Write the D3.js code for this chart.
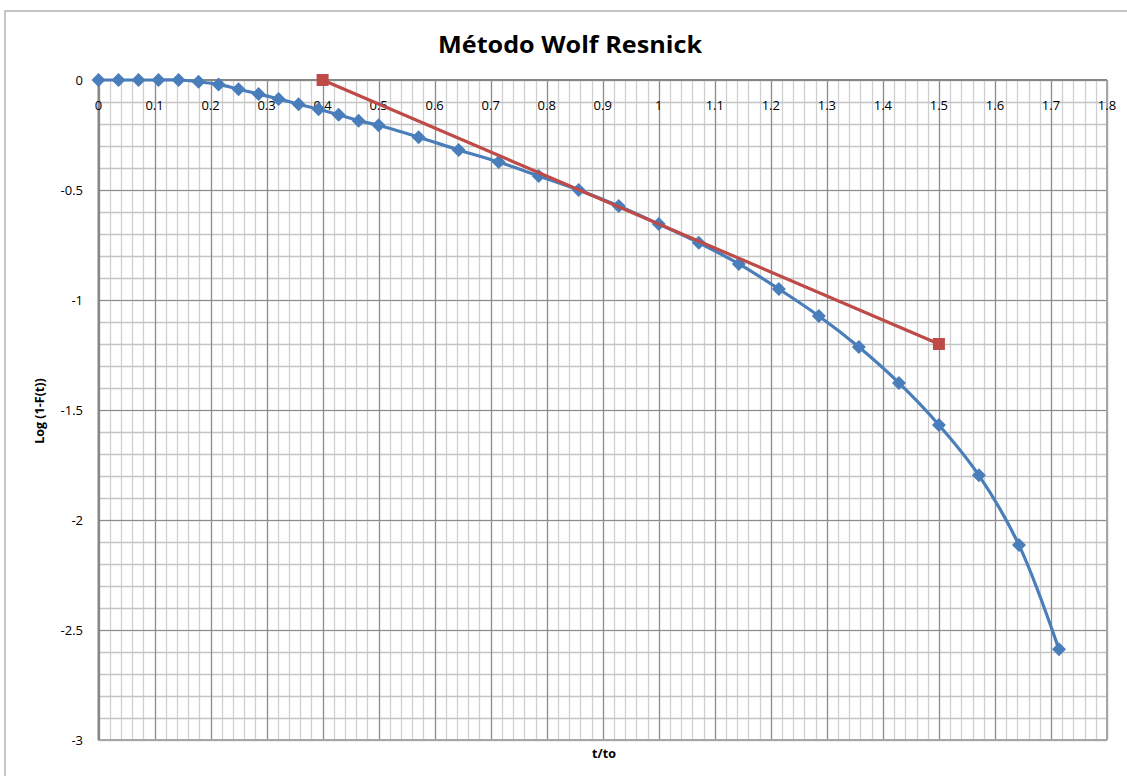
<!DOCTYPE html>
<html><head><meta charset="utf-8">
<script src="https://cdn.jsdelivr.net/npm/d3@7"></script>
<style>body{margin:0;background:#fff}svg{display:block}text{font-family:"Open Sans","DejaVu Sans",sans-serif}</style>
</head><body><svg id="c" width="1127" height="776"></svg>
<script>
const title = "Método Wolf Resnick";
const xLabel = "t/to";
const yLabel = "Log (1-F(t))";
const blueX = [0,0.0357,0.0714,0.1071,0.1429,0.1786,0.2143,0.25,0.2857,0.3214,0.3571,0.3929,0.4286,0.4643,0.5,
  0.5714,0.6429,0.7143,0.7857,0.8571,0.9286,1.0,1.0714,1.1429,1.2143,1.2857,1.3571,1.4286,1.5,1.5714,1.6429,1.7143];
const blueY = [0,0,0,0,0,-0.008,-0.02,-0.042,-0.064,-0.086,-0.11,-0.133,-0.158,-0.185,-0.206,
  -0.26,-0.318,-0.373,-0.436,-0.5,-0.573,-0.655,-0.74,-0.836,-0.95,-1.073,-1.214,-1.377,-1.568,-1.797,-2.114,-2.588];
const redX = [0.4, 1.5];
const redY = [0, -1.2];
const xTicks = [0,0.1,0.2,0.3,0.4,0.5,0.6,0.7,0.8,0.9,1,1.1,1.2,1.3,1.4,1.5,1.6,1.7,1.8];
const yTicks = [0,-0.5,-1,-1.5,-2,-2.5,-3];

const svg = d3.select("#c");
const x = d3.scaleLinear().domain([0,1.8]).range([98.5,1107]);
const y = d3.scaleLinear().domain([0,-3]).range([80,740]);

// outer chart border
svg.append("rect").attr("x",5).attr("y",11).attr("width",1140).attr("height",800)
  .attr("fill","none").attr("stroke","#a0a0a0").attr("stroke-width",1.2);

const g = svg.append("g");
// minor vertical gridlines every 0.02
const minorX = d3.range(0,91).map(i=>i*0.02).filter(v=>v<=1.8001);
g.selectAll(".mvx").data(minorX).join("line")
  .attr("x1",d=>Math.round(x(d))+0.5).attr("x2",d=>Math.round(x(d))+0.5)
  .attr("y1",y(0)).attr("y2",y(-3)).attr("stroke","#cfcfcf").attr("stroke-width",1.3);
const minorY = d3.range(0,31).map(i=>-i*0.1);
g.selectAll(".mhy").data(minorY).join("line")
  .attr("y1",d=>Math.round(y(d))+0.5).attr("y2",d=>Math.round(y(d))+0.5)
  .attr("x1",x(0)).attr("x2",x(1.8)).attr("stroke","#c4c4c4").attr("stroke-width",1.3);
// major gridlines
g.selectAll(".Mvx").data(xTicks).join("line")
  .attr("x1",d=>Math.round(x(d))+0.5).attr("x2",d=>Math.round(x(d))+0.5)
  .attr("y1",y(0)).attr("y2",y(-3)).attr("stroke","#8c8c8c").attr("stroke-width",1.2);
g.selectAll(".Mhy").data(yTicks).join("line")
  .attr("y1",d=>Math.round(y(d))+0.5).attr("y2",d=>Math.round(y(d))+0.5)
  .attr("x1",x(0)).attr("x2",x(1.8)).attr("stroke","#8c8c8c").attr("stroke-width",1.2);
// right/bottom edges
g.append("line").attr("x1",x(1.8)).attr("x2",x(1.8)).attr("y1",y(0)).attr("y2",y(-3)).attr("stroke","#a6a6a6").attr("stroke-width",2);
g.append("line").attr("x1",x(0)).attr("x2",x(1.8)).attr("y1",y(-3)).attr("y2",y(-3)).attr("stroke","#a6a6a6").attr("stroke-width",2);
// axis lines
g.append("line").attr("x1",x(0)).attr("x2",x(0)).attr("y1",y(0)).attr("y2",y(-3)).attr("stroke","#868686").attr("stroke-width",2);
g.append("line").attr("x1",x(0)).attr("x2",x(1.8)).attr("y1",y(0)).attr("y2",y(0)).attr("stroke","#868686").attr("stroke-width",2);

// tick labels
svg.append("g").selectAll("text").data(xTicks).join("text")
  .attr("x",d=>x(d)).attr("y",110).attr("text-anchor","middle")
  .attr("font-size",13).attr("fill","#000").text(d=>d3.format("")(+d.toFixed(1)));
svg.append("g").selectAll("text").data(yTicks).join("text")
  .attr("x",83).attr("y",d=>y(d)+4.5).attr("text-anchor","end")
  .attr("font-size",13).attr("fill","#000").text(d=>String(d));

// titles
svg.append("text").attr("x",570).attr("y",53).attr("text-anchor","middle")
  .attr("font-size",23).attr("font-weight","bold").attr("textLength",264).attr("lengthAdjust","spacingAndGlyphs").text(title);
svg.append("text").attr("x",604).attr("y",758).attr("text-anchor","middle")
  .attr("font-size",12.5).attr("font-weight","bold").text(xLabel);
svg.append("text").attr("transform","translate(44,411) rotate(-90)").attr("text-anchor","middle")
  .attr("font-size",12.5).attr("font-weight","bold").text(yLabel);

// blue series
const blue = blueX.map((v,i)=>[v,blueY[i]]);
svg.append("path").datum(blue)
  .attr("d",d3.line().x(d=>x(d[0])).y(d=>y(d[1])).curve(d3.curveCatmullRom.alpha(0.5)))
  .attr("fill","none").attr("stroke","#4a7ebb").attr("stroke-width",3.2);
svg.append("g").selectAll("path").data(blue).join("path")
  .attr("d",d3.symbol().type(d3.symbolDiamond2).size(125))
  .attr("transform",d=>`translate(${x(d[0])},${y(d[1])})`)
  .attr("fill","#4a7ebb");

// red series
const red = redX.map((v,i)=>[v,redY[i]]);
svg.append("path").datum(red)
  .attr("d",d3.line().x(d=>x(d[0])).y(d=>y(d[1])))
  .attr("fill","none").attr("stroke","#be4b48").attr("stroke-width",3.2);
svg.append("g").selectAll("rect").data(red).join("rect")
  .attr("x",d=>x(d[0])-6).attr("y",d=>y(d[1])-6).attr("width",12).attr("height",12)
  .attr("fill","#be4b48");
</script></body></html>
